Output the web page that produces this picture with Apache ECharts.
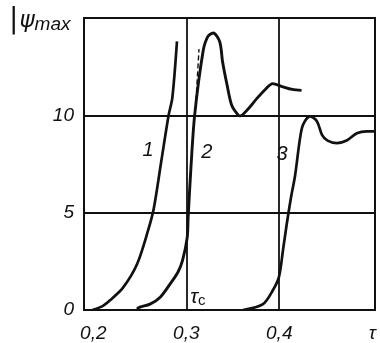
<!DOCTYPE html>
<html><head><meta charset="utf-8">
<script src="https://cdn.jsdelivr.net/npm/echarts@6/dist/echarts.min.js"></script>
<style>html,body{margin:0;padding:0;background:#fff}#c{width:380px;height:343px}</style>
</head><body><div id="c"></div>
<script>
// tau values and psi_max values
const curve1 = [[0.199,0],[0.21,0.2],[0.218,0.5],[0.232,1.15],[0.247,2.35],[0.259,4.1],[0.265,5.2],[0.273,7.6],[0.281,10.0],[0.285,10.9],[0.290,13.8]];
const curve2 = [[0.247,0.05],[0.250,0.15],[0.261,0.3],[0.272,0.66],[0.2825,1.33],[0.291,1.94],[0.296,2.55],[0.301,3.72],[0.302,4.74],[0.305,7.3],[0.309,10.0],[0.318,13.27],[0.323,14.03],[0.329,14.23],[0.336,13.78],[0.339,12.76],[0.344,11.53],[0.349,10.5],[0.356,10.0],[0.358,9.97],[0.366,10.3],[0.376,10.87],[0.385,11.33],[0.393,11.63],[0.403,11.48],[0.414,11.33],[0.424,11.28]];
const curve3 = [[0.361,0],[0.3825,0.3],[0.393,1.0],[0.3997,1.7],[0.404,3.06],[0.408,4.39],[0.4126,5.77],[0.417,6.9],[0.422,8.7],[0.4255,9.5],[0.433,9.95],[0.4405,9.7],[0.446,9.0],[0.452,8.7],[0.462,8.57],[0.473,8.72],[0.4835,9.08],[0.494,9.18],[0.503,9.18]];
const tangent2 = [[0.310,10.36],[0.3137,13.4]];
const xTicks = [0.2,0.3,0.4,0.5];
const xGrid = [0.3,0.4];
const yTicks = [0,5,10];
const curveLabels = [{value:[0.259,8.2],name:'1'},{value:[0.322,8.1],name:'2'},{value:[0.403,8.0],name:'3'}];
const tcLabel = [{value:[0.3125,0.65],name:'tc'}];

const ink = '#111';
const font = 'Liberation Sans';
const chart = echarts.init(document.getElementById('c'), null, {renderer:'canvas'});
chart.setOption({
  animation:false,
  backgroundColor:'#fff',
  grid:{left:84,right:5,top:18,bottom:30,show:true,borderColor:ink,borderWidth:2,containLabel:false},
  xAxis:{type:'value',min:0.19,max:0.503,
    axisLine:{show:false},axisTick:{show:false},splitLine:{show:false},
    axisLabel:{customValues:xTicks,margin:14,color:ink,fontSize:19,fontStyle:'italic',fontFamily:font,
      formatter:v=> Math.abs(v-0.5)<1e-9 ? 'τ' : String(v).replace('.',',')}},
  yAxis:{type:'value',min:0,max:15,interval:5,
    axisLine:{show:false},axisTick:{show:false},
    splitLine:{show:true,lineStyle:{color:ink,width:1.8}},
    axisLabel:{margin:10,color:ink,fontSize:19,fontStyle:'italic',fontFamily:font,
      formatter:v=> yTicks.includes(v) ? String(v) : ''}},
  graphic:[{type:'text',left:9,top:7,style:{
    text:'{b||}{p|ψ}{m|max}',
    rich:{b:{fontSize:28,fontFamily:'DejaVu Sans',fill:ink,padding:[0,1,0,0]},
          p:{fontSize:23,fontFamily:'DejaVu Sans',fontStyle:'italic',fill:ink},
          m:{fontSize:19,fontFamily:font,fontStyle:'italic',fill:ink,padding:[8,0,0,0]}}}}],
  series:[
    {type:'line',data:curve1,showSymbol:false,smooth:0.3,lineStyle:{color:ink,width:2.7},
     markLine:{silent:true,symbol:'none',label:{show:false},lineStyle:{color:ink,width:1.8,type:'solid'},
       data:xGrid.map(x=>({xAxis:x}))}},
    {type:'line',data:curve2,showSymbol:false,smooth:0.3,lineStyle:{color:ink,width:2.9}},
    {type:'line',data:curve3,showSymbol:false,smooth:0.3,lineStyle:{color:ink,width:2.7}},
    {type:'line',data:tangent2,showSymbol:false,lineStyle:{color:ink,width:1.4,type:[5,3]}},
    {type:'scatter',data:curveLabels,symbolSize:0,itemStyle:{color:ink,opacity:1},silent:true,
     label:{show:true,position:'inside',formatter:p=>p.name,color:ink,opacity:1,textBorderWidth:0,fontSize:20,fontStyle:'italic',fontFamily:font}},
    {type:'scatter',data:tcLabel,symbolSize:0,itemStyle:{color:ink,opacity:1},silent:true,
     label:{show:true,position:'inside',formatter:'{t|τ}{s|c}',textBorderWidth:0,opacity:1,
       rich:{t:{fontSize:21,fontFamily:font,fontStyle:'italic',color:ink},s:{fontSize:15,fontFamily:font,color:ink,padding:[8,0,0,0]}}}}
  ]
});
</script></body></html>
